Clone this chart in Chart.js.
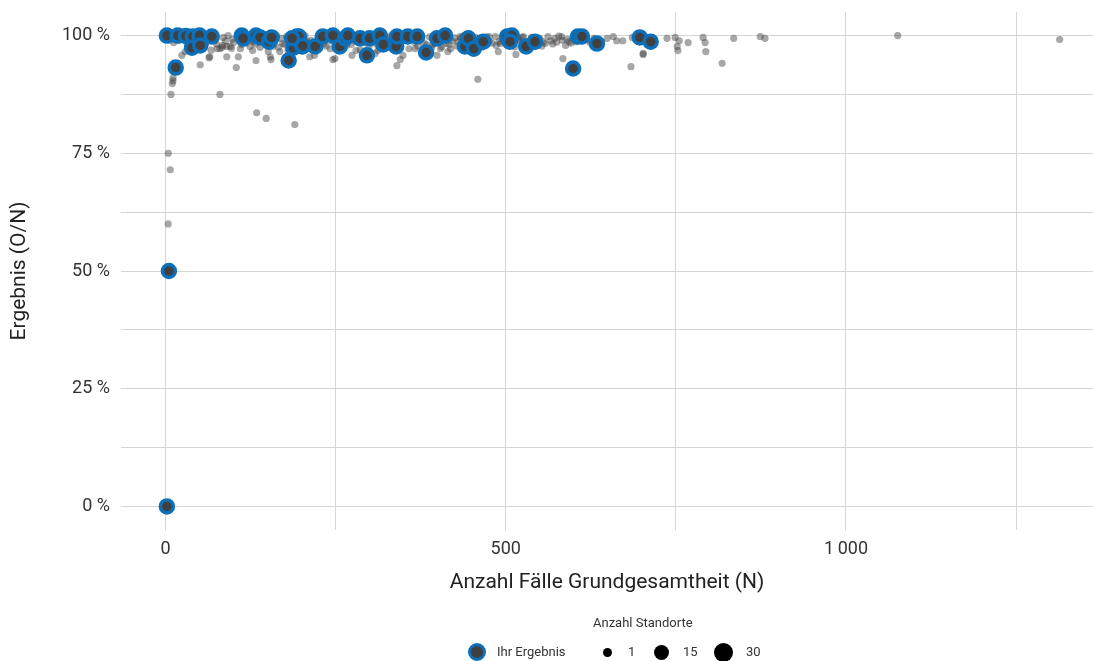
<!DOCTYPE html>
<html>
<head>
<meta charset="utf-8">
<script src="https://cdn.jsdelivr.net/npm/chart.js@4/dist/chart.umd.min.js"></script>
<style>
  body { margin: 0; background: #fff; font-family: Roboto, sans-serif; color: #333; overflow: hidden; }
  #wrap { position: relative; width: 1093px; height: 661px; }
  #myChart { display: block; }
  .lg { position: absolute; font-size: 13px; color: #333; white-space: nowrap; }
  .dot { position: absolute; border-radius: 50%; background: #000; }
</style>
</head>
<body>
<div id="wrap">
  <canvas id="myChart" width="1093" height="661"></canvas>
  <div class="lg" style="left:593px; top:615px;">Anzahl Standorte</div>
  <div class="dot" style="left:468px; top:643px; width:12px; height:12px; background:#404040; border:3px solid #0d6fb8;"></div>
  <div class="lg" style="left:497px; top:644px;">Ihr Ergebnis</div>
  <div class="dot" style="left:603px; top:648px; width:9px; height:9px;"></div>
  <div class="lg" style="left:628px; top:644px;">1</div>
  <div class="dot" style="left:654px; top:645px; width:15px; height:15px;"></div>
  <div class="lg" style="left:683px; top:644px;">15</div>
  <div class="dot" style="left:714px; top:643px; width:19px; height:19px;"></div>
  <div class="lg" style="left:746px; top:644px;">30</div>
</div>
<script>
// alle Standorte: Grundgesamtheit N und Ergebnis in %
const allN = [
  4, 7, 4, 8, 80, 11, 11, 10, 134, 148, 190, 459, 51, 104, 24, 29, 65, 80, 84, 90,
  95, 107, 110, 124, 129, 151, 154, 158, 168, 212, 219, 249, 340, 345, 349, 367, 274, 308, 312, 396,
  242, 280, 133, 155, 246, 64, 76, 83, 90,
  399, 415, 489, 515, 584, 572, 582, 593, 588, 555, 526, 524, 546, 485, 490, 476, 462, 433, 421, 419,
  404, 393,
  599, 641, 649, 658, 663, 672, 686, 702, 684, 737, 749, 752, 753, 755, 768, 790, 793, 794, 818,
  835, 874, 881, 1076, 1314, 702,
  0, 3, 6, 9, 12, 14, 20, 25, 30, 35, 42, 45, 55, 60, 62, 70, 75, 85, 88, 92,
  98, 100, 115, 118, 120, 126, 132, 136, 142, 145, 150, 160, 163, 170, 175, 178, 184, 195, 200, 205,
  214, 222, 227, 233, 238, 245, 250, 258, 262, 270, 278, 283, 290, 295, 303, 307, 318, 322, 330, 336,
  342, 350, 355, 362, 375, 380, 388, 395, 402, 408, 412, 425, 430, 437, 443, 448, 452, 456, 470, 472,
  480, 495, 498, 503, 508, 518, 532, 538, 542, 550, 558, 562, 566, 575, 578, 590, 606, 612, 620, 630,
  633, 2, 5,
  166, 172, 180, 187, 192, 198, 208, 217, 225, 236, 243, 252, 255, 266, 273, 286, 292, 299, 310, 315,
  326, 333, 345, 358, 366, 371, 384, 391, 398, 406, 417, 428, 434, 441, 458, 465, 476, 486, 492, 513,
  521, 528, 536, 548, 553, 569, 583, 596, 603, 615, 624, 38, 58, 67, 72, 97, 112, 128, 139, 146
];
const allRate = [
  75, 71.5, 60, 87.5, 87.5, 91, 90.4, 89.8, 83.6, 82.4, 81.1, 90.7, 93.8, 93.2, 95.8, 96.6, 95.5, 97.2, 97.9, 95.5,
  97.7, 95.5, 97.2, 97.7, 98.7, 96.6, 95.5, 97.7, 96.6, 95.5, 95.8, 95.1, 93.6, 94.9, 95.8, 97.2, 95.8, 96.2, 96.8, 98.3,
  97.2, 96.8, 94.7, 94.9, 94.9, 95.3, 97.2, 97.5, 97.7,
  95.8, 96.6, 96.6, 96, 95.1, 99.4, 99.8, 98.7, 97.9, 98.7, 99.8, 99.6, 98.9, 99.8, 98.7, 99.8, 99.4, 99.8, 98.9, 97.2,
  97.2, 98.1,
  99.4, 98.7, 99.4, 99.8, 98.9, 98.9, 99.6, 96.0, 93.4, 99.4, 99.6, 97.7, 96.8, 98.9, 98.5, 99.6, 98.5, 96.6, 94.1,
  99.4, 99.8, 99.4, 100, 99.15, 96.2,
  100, 100, 99, 100, 98.5, 99.5, 99, 100, 98.8, 99.5, 99.2, 98, 99.6, 98.5, 100, 99, 98.2, 99.6, 98.8, 100,
  99.2, 98.5, 99.5, 98.4, 100, 99, 98.2, 99.7, 98.8, 100, 99.2, 98.6, 100, 99.4, 98.1, 99.8, 98.9, 99.3, 98.4, 100,
  99, 98.6, 99.7, 98.2, 99.4, 98.8, 100, 99.1, 98.3, 99.6, 98.9, 100, 99.2, 98.5, 99.8, 98.8, 99.5, 98.2, 99.9, 99,
  98.6, 99.6, 98.9, 100, 99.3, 98.4, 99.7, 99.1, 98.7, 99.8, 98.3, 99.5, 98.7, 99.9, 98.4, 99.3, 97.9, 99.6, 98.9, 99.7,
  98.4, 99.1, 98.7, 99.9, 98.2, 99.3, 98.5, 99.6, 97.9, 99.4, 98.3, 99.8, 98.9, 98.6, 99.9, 99.2, 99.5, 98.9, 99.1, 99.4,
  98.8, 0, 50,
  97.5, 98.3, 96.9, 99.1, 98.0, 97.4, 98.8, 97.1, 98.4, 97.8, 99.2, 97.3, 98.6, 97.9, 98.1, 97.0, 98.7, 97.6, 98.2, 97.4,
  99.0, 97.5, 98.3, 97.2, 98.5, 97.7, 98.0, 97.3, 98.9, 97.6, 98.1, 97.8, 99.3, 98.0, 98.4, 97.5, 98.8, 97.9, 98.3, 97.6,
  98.9, 98.1, 99.1, 98.5, 97.8, 98.2, 99.0, 98.4, 98.7, 99.2, 98.5, 97.6, 98.0, 96.9, 98.9, 97.3, 98.1, 96.8, 97.5, 98.3
];

// Ihr Ergebnis
const ihrN = [
  2, 5, 15, 2, 18, 30, 40, 50, 39, 51, 68, 112, 114, 133, 139, 152, 156, 181, 188, 193,
  196, 186, 201, 202, 220, 231, 246, 256, 264, 268, 286, 296, 300, 315, 320, 339, 340, 356, 370, 383,
  399, 411, 440, 445, 453, 467, 502, 509, 506, 530, 543, 599, 606, 612, 634, 697, 713
];
const ihrRate = [
  0, 50, 93.2, 100, 100, 99.9, 99.8, 100, 97.4, 97.9, 99.8, 100, 99.4, 100, 99.6, 98.7, 99.6, 94.7, 97.4, 99.8,
  99.8, 99.4, 97.7, 97.8, 97.7, 99.8, 100, 97.7, 99.4, 100, 99.4, 95.8, 99.4, 100, 98.1, 97.7, 99.8, 99.8, 99.8, 96.4,
  99.4, 100, 97.7, 99.4, 97.2, 98.7, 99.8, 100, 98.7, 97.7, 98.7, 93, 99.8, 99.8, 98.3, 99.6, 98.7
];

const xGrid = [0, 250, 500, 750, 1000, 1250];
const yGrid = [0, 12.5, 25, 37.5, 50, 62.5, 75, 87.5, 100];

const toPoints = (xs, ys) => xs.map((x, i) => ({x: x, y: ys[i]}));
const fmtN = v => v >= 1000 ? Math.floor(v / 1000) + '\u2009' + String(v % 1000).padStart(3, '0') : String(v);

const tickFont = {family: 'Roboto', size: 18};
const titleFont = {family: 'Roboto', size: 21};
const gridColor = '#d6d6d6';

// keine zusaetzlichen Raender fuer Beschriftungen
const noPad = s => { s.paddingTop = 0; s.paddingBottom = 0; s.paddingLeft = 0; s.paddingRight = 0; };

new Chart(document.getElementById('myChart').getContext('2d'), {
  type: 'scatter',
  data: {
    datasets: [
      {
        label: 'Ihr Ergebnis',
        order: 0,
        data: toPoints(ihrN, ihrRate),
        pointRadius: 6.5,
        borderWidth: 3.5,
        borderColor: '#0d6fb8',
        backgroundColor: '#404040'
      },
      {
        label: 'Alle Standorte',
        order: 1,
        data: toPoints(allN, allRate),
        pointRadius: 3.6,
        borderWidth: 0,
        backgroundColor: 'rgba(60,60,60,0.45)'
      }
    ]
  },
  options: {
    responsive: false,
    animation: false,
    layout: {autoPadding: false, padding: {left: 0, right: 0, top: 12, bottom: 61}},
    plugins: {legend: {display: false}, tooltip: {enabled: false}},
    scales: {
      x: {
        type: 'linear',
        min: -65.4,
        max: 1363,
        afterBuildTicks: s => { s.ticks = xGrid.map(v => ({value: v})); },
        afterFit: s => { s.height = 70; noPad(s); },
        grid: {color: gridColor, drawTicks: false},
        border: {display: false},
        ticks: {
          padding: 9, font: tickFont, color: '#333', maxRotation: 0, autoSkip: false,
          callback: v => v % 500 === 0 ? fmtN(v) : ''
        },
        title: {display: true, text: 'Anzahl Fälle Grundgesamtheit (N)', font: titleFont, color: '#222', padding: {top: 0, bottom: 5}}
      },
      y: {
        type: 'linear',
        min: -5,
        max: 105,
        afterBuildTicks: s => { s.ticks = yGrid.map(v => ({value: v})); },
        afterFit: s => { s.width = 121; noPad(s); },
        grid: {color: gridColor, drawTicks: false},
        border: {display: false},
        ticks: {
          padding: 11, font: tickFont, color: '#333', autoSkip: false,
          callback: v => v % 25 === 0 ? v + ' %' : ''
        },
        title: {display: true, text: 'Ergebnis (O/N)', font: titleFont, color: '#222', padding: {top: 7, bottom: 0}}
      }
    }
  }
});
</script>
</body>
</html>
